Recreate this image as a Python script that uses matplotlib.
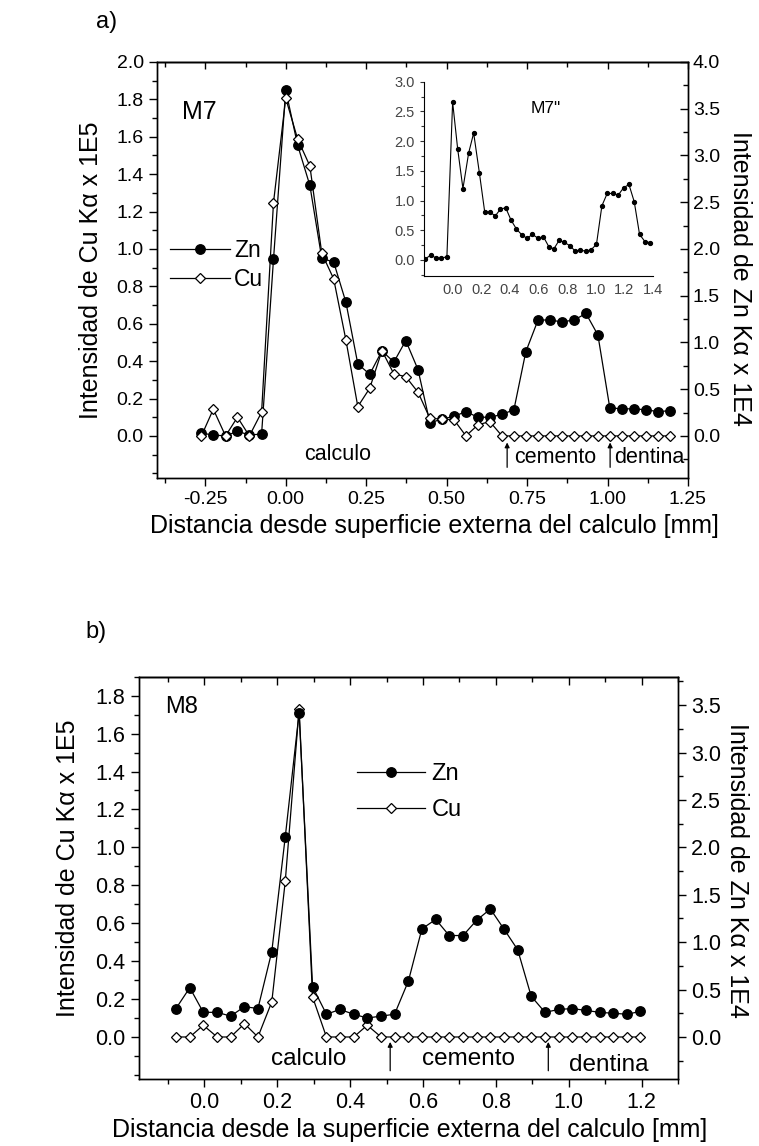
import matplotlib
matplotlib.use("Agg")
import matplotlib.pyplot as plt
from matplotlib.ticker import MultipleLocator, FixedLocator

plt.rcParams['font.family'] = ['Liberation Sans', 'DejaVu Sans']

W, H = 759, 1146

# ---------------- data: panel a (M7) ----------------
xa = [-0.262, -0.225, -0.187, -0.150, -0.113, -0.075, -0.038, 0.000, 0.037, 0.075,
      0.112, 0.149, 0.187, 0.224, 0.261, 0.299, 0.336, 0.373, 0.411, 0.448,
      0.485, 0.523, 0.560, 0.597, 0.634, 0.672, 0.709, 0.746, 0.784, 0.821,
      0.858, 0.896, 0.933, 0.970, 1.007, 1.045, 1.082, 1.119, 1.157, 1.194]
zn_a = [0.03, 0.01, 0.00, 0.05, 0.01, 0.02, 1.89, 3.70, 3.11, 2.68,
        1.90, 1.86, 1.43, 0.77, 0.66, 0.91, 0.79, 1.02, 0.71, 0.14,
        0.18, 0.21, 0.26, 0.20, 0.20, 0.23, 0.28, 0.90, 1.24, 1.24,
        1.22, 1.24, 1.31, 1.08, 0.30, 0.29, 0.29, 0.28, 0.26, 0.27]
cu_a = [0.00, 0.143, 0.00, 0.100, 0.00, 0.127, 1.248, 1.806, 1.588, 1.444,
        0.977, 0.840, 0.513, 0.157, 0.255, 0.456, 0.332, 0.317, 0.234, 0.094,
        0.090, 0.086, 0.00, 0.059, 0.077, 0.00, 0.00, 0.00, 0.00, 0.00,
        0.00, 0.00, 0.00, 0.00, 0.00, 0.00, 0.00, 0.00, 0.00, 0.00]

# inset M7''
xi = [-0.191, -0.152, -0.114, -0.079, -0.040, 0.000, 0.035, 0.072, 0.112, 0.147,
      0.187, 0.224, 0.261, 0.299, 0.334, 0.371, 0.408, 0.446, 0.485, 0.520,
      0.558, 0.597, 0.634, 0.672, 0.707, 0.744, 0.781, 0.819, 0.856, 0.893,
      0.931, 0.968, 1.005, 1.043, 1.080, 1.120, 1.157, 1.194, 1.232, 1.269,
      1.306, 1.344, 1.381]
yi = [0.017, 0.084, 0.028, 0.028, 0.056, 2.657, 1.874, 1.202, 1.801, 2.136,
      1.465, 0.811, 0.800, 0.744, 0.856, 0.878, 0.671, 0.520, 0.419, 0.364,
      0.431, 0.364, 0.392, 0.224, 0.185, 0.330, 0.296, 0.240, 0.151, 0.168,
      0.145, 0.173, 0.263, 0.912, 1.119, 1.119, 1.091, 1.214, 1.270, 0.979,
      0.431, 0.308, 0.291]

# ---------------- data: panel b (M8) ----------------
xb = [-0.078, -0.040, -0.003, 0.035, 0.072, 0.110, 0.147, 0.185, 0.222, 0.260,
      0.297, 0.335, 0.372, 0.410, 0.447, 0.485, 0.522, 0.560, 0.597, 0.635,
      0.672, 0.710, 0.747, 0.785, 0.822, 0.860, 0.897, 0.935, 0.972, 1.010,
      1.047, 1.085, 1.122, 1.160, 1.197]
zn_b = [0.30, 0.52, 0.26, 0.26, 0.22, 0.32, 0.30, 0.90, 2.11, 3.42,
        0.53, 0.24, 0.29, 0.24, 0.20, 0.22, 0.24, 0.59, 1.14, 1.24,
        1.07, 1.07, 1.23, 1.35, 1.14, 0.92, 0.43, 0.26, 0.29, 0.30,
        0.28, 0.26, 0.25, 0.24, 0.27]
cu_b = [0.00, 0.00, 0.062, 0.00, 0.00, 0.070, 0.00, 0.185, 0.821, 1.729,
        0.211, 0.00, 0.00, 0.00, 0.062, 0.00, 0.00, 0.00, 0.00, 0.00,
        0.00, 0.00, 0.00, 0.00, 0.00, 0.00, 0.00, 0.00, 0.00, 0.00,
        0.00, 0.00, 0.00, 0.00, 0.00]

xticks_a = [-0.25, 0.0, 0.25, 0.5, 0.75, 1.0, 1.25]
xticklabels_a = ['-0.25', '0.00', '0.25', '0.50', '0.75', '1.00', '1.25']
yticks_a = [0.0, 0.2, 0.4, 0.6, 0.8, 1.0, 1.2, 1.4, 1.6, 1.8, 2.0]
y2ticks_a = [0.0, 0.5, 1.0, 1.5, 2.0, 2.5, 3.0, 3.5, 4.0]
xticks_i = [0.0, 0.2, 0.4, 0.6, 0.8, 1.0, 1.2, 1.4]
yticks_i = [0.0, 0.5, 1.0, 1.5, 2.0, 2.5, 3.0]
xticks_b = [0.0, 0.2, 0.4, 0.6, 0.8, 1.0, 1.2]
yticks_b = [0.0, 0.2, 0.4, 0.6, 0.8, 1.0, 1.2, 1.4, 1.6, 1.8]
y2ticks_b = [0.0, 0.5, 1.0, 1.5, 2.0, 2.5, 3.0, 3.5]

FS_LAB = 18

fig = plt.figure(figsize=(W / 100, H / 100), dpi=100)


def rect(l, t, r, b):
    return [l / W, 1 - b / H, (r - l) / W, (b - t) / H]


def ftext(x, y, s, **kw):
    fig.text(x / W, 1 - y / H, s, **kw)


def fmt1(v):
    return '%.1f' % v


def style(ax, ax2, right_dir, fs):
    ax.tick_params(axis='both', which='both', labelsize=fs, width=1.0,
                   colors='black', direction='out')
    ax.tick_params(axis='x', which='both', top=False, bottom=True)
    ax.tick_params(axis='y', which='both', left=True, right=False)
    ax.tick_params(which='major', length=6)
    ax.tick_params(which='minor', length=3.5)
    ax2.tick_params(axis='y', which='both', labelsize=fs, width=1.0,
                    direction=right_dir)
    ax2.tick_params(which='major', length=6)
    ax2.tick_params(which='minor', length=3.5)
    for sp in list(ax.spines.values()) + list(ax2.spines.values()):
        sp.set_linewidth(1.0)


def top_ticks(ax, majors, minor_step, major_len):
    sec = ax.secondary_xaxis('top')
    sec.xaxis.set_major_locator(FixedLocator(majors))
    sec.xaxis.set_minor_locator(MultipleLocator(minor_step))
    sec.tick_params(which='both', direction='in', labeltop=False, width=1.0)
    sec.tick_params(which='major', length=major_len)
    sec.tick_params(which='minor', length=3.5)
    sec.spines['top'].set_linewidth(1.0)


# ================= Panel a =================
axa = fig.add_axes(rect(157, 62, 688, 478))
axa2 = axa.twinx()
axa.set_zorder(axa2.get_zorder() + 1)
axa.patch.set_visible(False)

axa2.plot(xa, zn_a, '-', color='black', lw=0.9, marker='o', ms=6.8,
          mfc='black', mec='black', label='Zn')
axa.plot(xa, cu_a, '-', color='black', lw=0.9, marker='D', ms=5.6,
         mfc='white', mec='black', mew=0.9, label='Cu')

axa.set_xlim(-0.40, 1.25)
axa.set_ylim(-0.225, 2.0)
axa2.set_ylim(-0.45, 4.0)
axa.xaxis.set_major_locator(FixedLocator(xticks_a))
axa.xaxis.set_minor_locator(MultipleLocator(0.125))
axa.set_xticklabels(xticklabels_a)
axa.yaxis.set_major_locator(FixedLocator(yticks_a))
axa.yaxis.set_minor_locator(MultipleLocator(0.1))
axa.set_yticklabels([fmt1(v) for v in yticks_a])
axa2.yaxis.set_major_locator(FixedLocator(y2ticks_a))
axa2.yaxis.set_minor_locator(MultipleLocator(0.25))
axa2.set_yticklabels([fmt1(v) for v in y2ticks_a])
style(axa, axa2, 'in', 14)
top_ticks(axa, xticks_a, 0.125, 5)

h1, l1 = axa2.get_legend_handles_labels()
h2, l2 = axa.get_legend_handles_labels()
fig.legend(h1 + h2, l1 + l2, loc='center left',
           bbox_to_anchor=(170 / W, 1 - 265 / H), frameon=False,
           fontsize=16.5, handlelength=2.6, handletextpad=0.2,
           labelspacing=0.3, borderpad=0, borderaxespad=0)

axa.text(0.047, 0.88, 'M7', transform=axa.transAxes, fontsize=18,
         ha='left', va='center')
axa.text(0.16, -0.10, 'calculo', fontsize=15.5, ha='center', va='center')
axa.text(0.71, -0.118, 'cemento', fontsize=15.5, ha='left', va='center')
axa.text(1.02, -0.118, 'dentina', fontsize=15.5, ha='left', va='center')
for xarr in (0.688, 1.008):
    axa.annotate('', xy=(xarr, -0.035), xytext=(xarr, -0.168),
                 arrowprops=dict(arrowstyle='-|>', color='black', lw=0.9,
                                 mutation_scale=7, shrinkA=0, shrinkB=0))

# inset
axi = fig.add_axes(rect(424, 81.7, 653, 276))
axi.plot(xi, yi, '-', color='black', lw=0.8, marker='o', ms=2.8,
         mfc='black', mec='black')
axi.set_xlim(-0.2, 1.4)
axi.set_ylim(-0.27, 3.0)
axi.spines['top'].set_visible(False)
axi.spines['right'].set_visible(False)
axi.xaxis.set_major_locator(FixedLocator(xticks_i))
axi.set_xticklabels([fmt1(v) for v in xticks_i])
axi.yaxis.set_major_locator(FixedLocator(yticks_i))
axi.set_yticklabels([fmt1(v) for v in yticks_i])
axi.yaxis.set_minor_locator(MultipleLocator(0.25))
axi.tick_params(which='both', labelsize=10.5, direction='out', width=0.8,
                colors='#333333', labelcolor='#444444')
axi.tick_params(which='major', length=3)
axi.tick_params(which='minor', length=2)
axi.tick_params(axis='x', which='major', length=0, pad=5)
axi.patch.set_visible(False)
for sp in axi.spines.values():
    sp.set_linewidth(0.8)
axi.text(0.53, 0.86, 'M7"', transform=axi.transAxes, fontsize=12.5,
         ha='center', va='center')

# labels panel a
ftext(107, 22, 'a)', fontsize=17, ha='center', va='center')
ftext(434, 526, 'Distancia desde superficie externa del calculo [mm]',
      fontsize=FS_LAB, ha='center', va='center')
ftext(91, 270, 'Intensidad de Cu K\u03b1 x 1E5', fontsize=FS_LAB,
      rotation=90, ha='center', va='center')
ftext(740, 278, 'Intensidad de Zn K\u03b1 x 1E4', fontsize=FS_LAB,
      rotation=-90, ha='center', va='center')

# ================= Panel b =================
axb = fig.add_axes(rect(138.8, 676.7, 678, 1078.7))
axb2 = axb.twinx()
axb2.plot(xb, zn_b, '-', color='black', lw=0.9, marker='o', ms=6.8,
          mfc='black', mec='black', label='Zn', zorder=3)
axb.plot(xb, cu_b, '-', color='black', lw=0.9, marker='D', ms=5.6,
         mfc='white', mec='black', mew=0.9, label='Cu')
axb.set_xlim(-0.18, 1.30)
axb.set_ylim(-0.22, 1.90)
axb2.set_ylim(-0.44, 3.80)
axb.xaxis.set_major_locator(FixedLocator(xticks_b))
axb.xaxis.set_minor_locator(MultipleLocator(0.1))
axb.set_xticklabels([fmt1(v) for v in xticks_b])
axb.yaxis.set_major_locator(FixedLocator(yticks_b))
axb.yaxis.set_minor_locator(MultipleLocator(0.1))
axb.set_yticklabels([fmt1(v) for v in yticks_b])
axb2.yaxis.set_major_locator(FixedLocator(y2ticks_b))
axb2.yaxis.set_minor_locator(MultipleLocator(0.25))
axb2.set_yticklabels([fmt1(v) for v in y2ticks_b])
style(axb, axb2, 'out', 15.5)
top_ticks(axb, xticks_b, 0.1, 6)

h1, l1 = axb2.get_legend_handles_labels()
h2, l2 = axb.get_legend_handles_labels()
fig.legend(h1 + h2, l1 + l2, loc='center left',
           bbox_to_anchor=(357 / W, 1 - 792 / H), frameon=False,
           fontsize=17, handlelength=2.9, handletextpad=0.25,
           labelspacing=0.6, borderpad=0, borderaxespad=0)

axb.text(0.048, 0.925, 'M8', transform=axb.transAxes, fontsize=17,
         ha='left', va='center')
axb.text(0.285, -0.114, 'calculo', fontsize=17.5, ha='center', va='center')
axb.text(0.725, -0.114, 'cemento', fontsize=17.5, ha='center', va='center')
axb.text(1.11, -0.15, 'dentina', fontsize=17.5, ha='center', va='center')
for xarr in (0.510, 0.944):
    axb.annotate('', xy=(xarr, -0.026), xytext=(xarr, -0.178),
                 arrowprops=dict(arrowstyle='-|>', color='black', lw=0.9,
                                 mutation_scale=7, shrinkA=0, shrinkB=0))

ftext(96, 632, 'b)', fontsize=17, ha='center', va='center')
ftext(410, 1130, 'Distancia desde la superficie externa del calculo [mm]',
      fontsize=FS_LAB, ha='center', va='center')
ftext(68, 868, 'Intensidad de Cu K\u03b1 x 1E5', fontsize=FS_LAB,
      rotation=90, ha='center', va='center')
ftext(737, 870, 'Intensidad de Zn K\u03b1 x 1E4', fontsize=FS_LAB,
      rotation=-90, ha='center', va='center')

fig.savefig('out.png', dpi=100)
